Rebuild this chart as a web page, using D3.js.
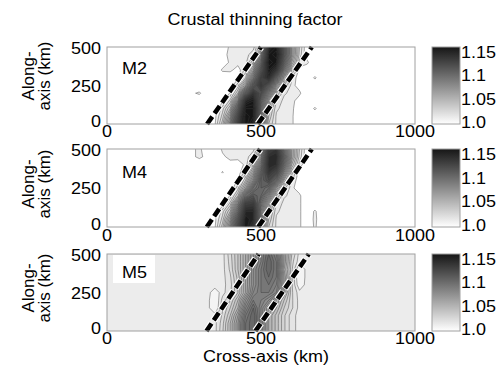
<!DOCTYPE html>
<html>
<head>
<meta charset="utf-8">
<script src="https://cdn.jsdelivr.net/npm/d3@7"></script>
<style>
  html, body { margin: 0; padding: 0; background: #fff; }
  svg { display: block; }
  text { font-family: "Liberation Sans", Arial, Helvetica, sans-serif; fill: #000; }
</style>
</head>
<body>
<script>
// ---------------- DATA ----------------
const titleText = "Crustal thinning factor";
const xAxisTitle = "Cross-axis (km)";
const yAxisTitleLines = ["Along-", "axis (km)"];
const panelNames = ["M2", "M4", "M5"];
const xTicks = [0, 500, 1000];
const yTicks = [0, 250, 500];
const colorbarTicks = [1.0, 1.05, 1.1, 1.15];
const colorbarTickLabels = ["1.0", "1.05", "1.1", "1.15"];

// Grid of the thinning field (values = (factor - 1) * 100)
const xCols = [300, 325, 350, 375, 400, 425, 450, 475, 500, 525, 550, 575, 600, 625, 650, 675, 700, 725];
const yRows = [500, 450, 400, 350, 300, 250, 200, 150, 100, 50, 0];

const gridM2 = [
  [0,0,0,0,1.3,1.3,1.3,1.3,3,14,15,10,5,2,0.4,0,0,0],
  [0,0,0,0.6,1.3,1.3,1.3,1.8,5,15,16,10,5,1.8,0.5,0,0,0],
  [0,0,0,0.3,1.2,1.3,1.3,3,8,16,15,9,4,1.3,1.2,0,0,0],
  [0,0,0,1.2,1.2,0.6,1.8,4.5,10,15,13,7,2.5,0.8,0.3,0,0,0],
  [0,0,0,0,0.3,0.9,2.5,6.5,12,14,9,4,1.6,0.5,0,1.2,0,0],
  [0,0,0,0,0.5,1.8,4.5,10,13,10,5.5,2.5,1.3,0.6,0,0,0,0],
  [1.2,0,0,0,1.1,3,9,13,11,7,3,1.6,1.3,1.2,0,0,0,0],
  [0,0,0,0.8,2.2,6,14,15,9,4.5,2,1.3,1.3,0.5,0,0,0,0],
  [0,0,0.5,1.8,3.5,9,16,16,8,3.5,1.6,1.3,1.3,0,0,1.2,0,0],
  [0,0,0.8,2.2,5,11,17,16,7,3,1.4,1.3,1.2,0,0,0,0,0],
  [0,0,0.9,2.8,6,12,17,15,7,2.5,1.4,1.3,1.2,0,0,0,0,0]
];
const gridM4 = [
  [1.2,0.4,0,1.2,1.3,1.3,1.3,1.3,3,12,13,8,4.5,2,0.4,0,0,0],
  [1.3,0.6,0,0.8,1.3,1.3,1.2,2,5,13.5,14,9,4.5,1.8,0.5,0,0,0],
  [0,0,0,0.3,0.6,0.5,1.2,3,7,14,13.5,8,3.5,1.3,0.5,0,0,0],
  [0,0,0,1.1,0,0.6,1.8,4.5,9,13,11.5,6,2.2,0.7,0,0,0,0],
  [0,0,0,0,0,1.1,3,6,10,11.5,8.5,4,1.6,0.5,0,0,0,0],
  [0,0,0,0,0.5,1.8,4.5,8.5,10,9,5,2.2,1.2,0.5,0,0,0,0],
  [0,0,0,0,1.1,3,8,10.5,9.5,6.5,3,1.6,1.3,1.2,0,0,0,0],
  [0,0,0,0.6,2.2,6,12,12.5,8,4.5,2,1.3,1.3,1.2,0,0,0,0],
  [0,0,0.5,1.8,3.5,8,14,14,7,3.5,1.6,1.3,1.3,1.2,0,1.2,0,0],
  [0,0,0.8,2.2,5,10,15,14,6.5,3,1.4,1.3,1.3,1.2,0,1.3,0,0],
  [0,0,0.9,2.8,6,11,15,13,6,2.5,1.4,1.3,1.3,1.2,0,1.2,0,0]
];
const gridM5 = [
  [1.3,1.3,1.3,1.3,2.3,3.5,5,6.5,8,9.5,8,5,2.5,1.3,1.3,1.3,1.3,1.3],
  [1.3,1.3,1.3,1.3,2.2,3.5,5,6.5,8,10,8.5,5,2.2,1.2,1.3,1.3,1.3,1.3],
  [1.3,1.3,1.3,1.3,2.1,3.5,5,7,8.5,10,8.5,4.5,2.1,0.3,1.3,1.3,1.3,1.3],
  [1.3,1.3,1.3,1.3,1.9,3.2,5,7,8.5,9.5,8.5,5,2.1,0.3,1.3,1.3,1.3,1.3],
  [1.3,1.3,1.3,1.3,1.8,3,5,7,8.5,9,8,5,2.1,0.5,1.3,1.3,1.3,1.3],
  [1.3,1.3,0.6,1.3,1.9,3,5,7.5,8.5,8.5,7.5,4.5,2.1,1.2,1.3,1.3,1.3,1.3],
  [1.3,1.3,0.3,1.7,2.5,4,6.5,8.5,8,7,5,3.5,2.1,1.3,1.3,1.3,1.3,1.3],
  [1.3,1.3,0.3,1.9,3,4.5,7.5,9.5,7.5,5.5,4.5,3,2.1,1.3,1.3,1.3,1.3,1.3],
  [1.3,1.3,1.3,2.1,3.5,5.5,8.5,10,7.5,5,3.8,2.6,1.7,1.3,1.3,1.3,1.3,1.3],
  [1.3,1.3,1.3,2.3,4,6,9,10,7.5,5,3.8,2.6,1.7,1.3,1.3,1.3,1.3,1.3],
  [1.3,1.3,1.3,2.4,4,6,9,10,7.5,5,3.8,2.6,1.7,1.3,1.3,1.3,1.3,1.3]
];
const backgroundM2 = 0, backgroundM4 = 0, backgroundM5 = 1.3;

// dashed boundary lines: [x0, y0, x1, y1] in km
const dashedM2 = [[325, 0, 500, 500], [490, 0, 665, 500]];
const dashedM4 = [[324, 0, 497, 500], [491, 0, 665, 500]];
const dashedM5 = [[323, 0, 492, 500], [482, 0, 655, 500]];

// ---------------- LAYOUT ----------------
const W = 503, H = 380;
const svg = d3.select("body").append("svg").attr("width", W).attr("height", H);
const defs = svg.append("defs");

const x = d3.scaleLinear().domain([0, 1000]).range([107, 415]);
const levels = d3.range(1, 17.01, 0.5);
const shade = v => {
  const t = Math.max(0, Math.min(1, v / 15));
  const c = Math.round(255 - t * (255 - 22));
  return `rgb(${c},${c},${c})`;
};

function txt(g, px, py, s, anchor, size, sy) {
  return g.append("text")
    .attr("transform", `translate(${px},${py}) scale(1,${sy == null ? 0.88 : sy})`)
    .attr("text-anchor", anchor || "start")
    .style("font-size", (size || 18) + "px")
    .text(s);
}

const grad = defs.append("linearGradient").attr("id", "cbgrad")
  .attr("x1", 0).attr("y1", 1).attr("x2", 0).attr("y2", 0);
grad.append("stop").attr("offset", "0%").attr("stop-color", "#ffffff");
grad.append("stop").attr("offset", "100%").attr("stop-color", shade(15));

const panels = [
  { name: panelNames[0], grid: gridM2, bg: backgroundM2, dashed: dashedM2, top: 47, bottom: 124, labelBase: 74, xLabBase: 137, yTitleC: 76 },
  { name: panelNames[1], grid: gridM4, bg: backgroundM4, dashed: dashedM4, top: 149, bottom: 227, labelBase: 178, xLabBase: 241, yTitleC: 184 },
  { name: panelNames[2], grid: gridM5, bg: backgroundM5, dashed: dashedM5, top: 254, bottom: 331, labelBase: 278, xLabBase: 344, yTitleC: 288, box: true }
];

// title
txt(svg, 255, 25, titleText, "middle", 18);

panels.forEach((p, i) => {
  const y = d3.scaleLinear().domain([0, 500]).range([p.bottom, p.top]);
  const g = svg.append("g");
  const clipId = "clip" + i;
  defs.append("clipPath").attr("id", clipId).append("rect")
    .attr("x", x(0)).attr("y", p.top).attr("width", x(1000) - x(0)).attr("height", p.bottom - p.top);

  const plot = g.append("g").attr("clip-path", `url(#${clipId})`);
  plot.append("rect").attr("x", x(0)).attr("y", p.top)
    .attr("width", x(1000) - x(0)).attr("height", p.bottom - p.top)
    .attr("fill", p.bg > 0 ? shade(1.25) : "#ffffff");

  const n = xCols.length, m = yRows.length;
  const flat = p.grid.flat();
  const gx = d3.scaleLinear().domain([0.5, n - 0.5]).range([x(xCols[0]), x(xCols[n - 1])]);
  const gy = d3.scaleLinear().domain([0.5, m - 0.5]).range([y(yRows[0]), y(yRows[m - 1])]);
  const path = d3.geoPath(d3.geoTransform({ point(a, b) { this.stream.point(gx(a), gy(b)); } }));

  const cs = d3.contours().size([n, m]).thresholds(levels)(flat);
  cs.filter(c => c.value > p.bg).forEach(c => {
    plot.append("path").attr("d", path(c))
      .attr("fill", shade(c.value + 0.25))
      .attr("stroke", "#3a3a3a").attr("stroke-opacity", 0.8).attr("stroke-width", 0.55);
  });
  if (p.bg > 0) {
    const holes = d3.contours().size([n, m]).thresholds([-1])(flat.map(v => -v));
    holes.forEach(c => {
      plot.append("path").attr("d", path(c))
        .attr("fill", "#f4f4f4")
        .attr("stroke", "#3a3a3a").attr("stroke-opacity", 0.8).attr("stroke-width", 0.55);
    });
  }

  // dashed lines
  p.dashed.forEach(d => {
    g.append("line").attr("x1", x(d[0])).attr("y1", y(d[1])).attr("x2", x(d[2])).attr("y2", y(d[3]))
      .attr("stroke", "#fff").attr("stroke-width", 7).attr("stroke-dasharray", "10,3").attr("stroke-dashoffset", 0.5);
    g.append("line").attr("x1", x(d[0])).attr("y1", y(d[1])).attr("x2", x(d[2])).attr("y2", y(d[3]))
      .attr("stroke", "#000").attr("stroke-width", 4.6).attr("stroke-dasharray", "9,4");
  });

  // frame
  g.append("rect").attr("x", x(0)).attr("y", p.top)
    .attr("width", x(1000) - x(0)).attr("height", p.bottom - p.top)
    .attr("fill", "none").attr("stroke", "#a0a0a0").attr("stroke-width", 1);

  // panel label
  if (p.box) {
    g.append("rect").attr("x", 113).attr("y", p.top + 1).attr("width", 42).attr("height", 28).attr("fill", "#fff");
  }
  txt(g, 122, p.labelBase, p.name, "start", 18);

  // x tick labels
  xTicks.forEach(v => txt(g, x(v), p.xLabBase, String(v), "middle", 18));
  // y tick labels
  yTicks.forEach(v => {
    const yy = Math.min(Math.max(y(v), p.top + 1), p.bottom - 3);
    txt(g, 101, yy + 6, String(v), "end", 18);
  });

  // y axis title (two lines, rotated)
  g.append("text").attr("transform", `translate(34,${p.yTitleC}) rotate(-90)`)
    .attr("text-anchor", "middle").style("font-size", "17px").text(yAxisTitleLines[0]);
  g.append("text").attr("transform", `translate(50,${p.yTitleC}) rotate(-90)`)
    .attr("text-anchor", "middle").style("font-size", "17px").text(yAxisTitleLines[1]);

  // colorbar
  g.append("rect").attr("x", 432).attr("y", p.top).attr("width", 28).attr("height", p.bottom - p.top)
    .attr("fill", "url(#cbgrad)").attr("stroke", "#a0a0a0").attr("stroke-width", 1);
  const cy = d3.scaleLinear().domain([1.0, 1.15]).range([p.bottom - 2, p.top + 5]);
  colorbarTicks.forEach((v, k) => txt(g, 461, cy(v) + 6, colorbarTickLabels[k], "start", 18));
});

// x axis title
txt(svg, 266, 362, xAxisTitle, "middle", 18);
</script>
</body>
</html>
